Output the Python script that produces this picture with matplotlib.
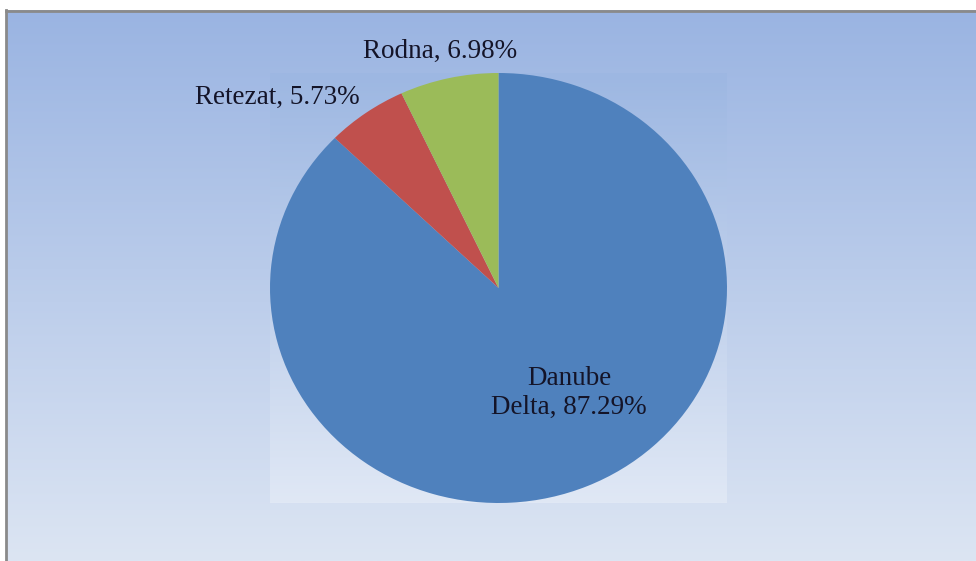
import numpy as np
import matplotlib
matplotlib.use("Agg")
import matplotlib.pyplot as plt
from matplotlib.colors import LinearSegmentedColormap
from matplotlib.lines import Line2D

# Reserve areas and their share of the total
areas = ["Danube\nDelta", "Retezat", "Rodna"]
shares = [87.29, 5.73, 6.98]
colors = ["#4f81bd", "#c0504d", "#9bbb59"]

W, H = 976, 561
fig = plt.figure(figsize=(W / 100, H / 100), dpi=100)
fig.patch.set_facecolor("white")

def px_box(x0, y0, x1, y1):
    return [x0 / W, 1 - y1 / H, (x1 - x0) / W, (y1 - y0) / H]

grad = LinearSegmentedColormap.from_list("bg", ["#9ab4e2", "#dce5f3"])
ramp = np.linspace(0, 1, 256).reshape(-1, 1)

# chart area background
bg = fig.add_axes(px_box(6, 10, W, H))
bg.imshow(ramp, cmap=grad, aspect="auto", extent=[0, 1, 0, 1], origin="upper")
bg.set_axis_off()

# border on the visible top and left edges
fig.add_artist(Line2D([6 / W, 1], [1 - 10.5 / H, 1 - 10.5 / H], color="#8a8a8a", lw=2))
fig.add_artist(Line2D([6 / W, 6 / W], [0, 1 - 10 / H], color="#8a8a8a", lw=2))

# plot area with its own gradient, pie on top
ax = fig.add_axes(px_box(270, 73, 727, 503))
plot_grad = LinearSegmentedColormap.from_list("pa", ["#9db7e2", "#e0e8f5"])
ax.imshow(ramp, cmap=plot_grad, aspect="auto", extent=[-1, 1, -1, 1],
          origin="upper", zorder=0)
wedges, _ = ax.pie(shares, colors=colors, startangle=90, counterclock=False,
                   radius=1, wedgeprops=dict(linewidth=0))
ax.set_xlim(-1, 1)
ax.set_ylim(-1, 1)
ax.set_aspect("auto")
ax.set_axis_off()

font = dict(family=["Liberation Serif", "DejaVu Serif"], size=19.5, color="#141428")
label_pos = [(569, 393), (277, 97), (440, 51)]
for name, val, (x, y) in zip(areas, shares, label_pos):
    fig.text(x / W, 1 - y / H, f"{name}, {val:.2f}%", ha="center", va="center",
             linespacing=1.2, **font)

fig.savefig("out.png", dpi=100)
